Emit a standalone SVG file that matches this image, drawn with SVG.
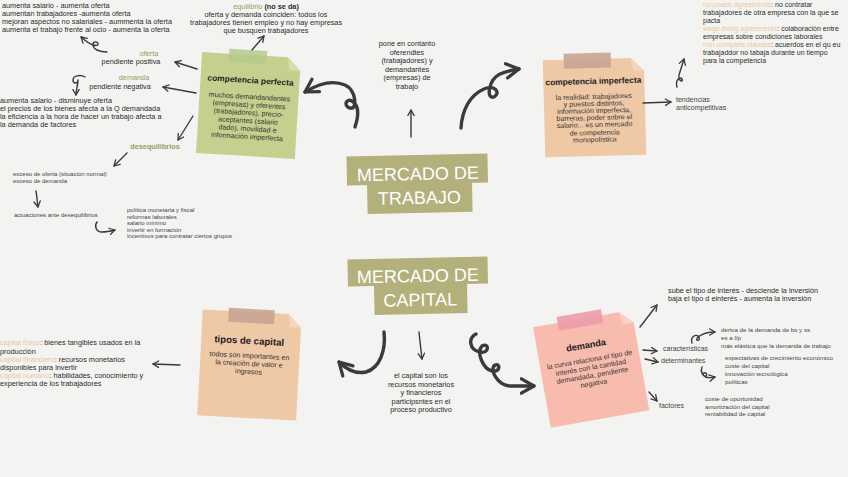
<svg xmlns="http://www.w3.org/2000/svg" width="848" height="477" viewBox="0 0 848 477">
<style>
.t{font-family:"Liberation Sans",Arial,sans-serif;font-size:7.3px;fill:#2b2b2b}
.r{font-family:"Liberation Sans",Arial,sans-serif;font-size:7px;fill:#2b2b2b}
.s{font-family:"Liberation Sans",Arial,sans-serif;font-size:6px;fill:#444}
.m{font-family:"Liberation Sans",Arial,sans-serif;font-size:6.2px;fill:#444}
.l{font-family:"Liberation Sans",Arial,sans-serif;font-size:7px;fill:#444}
.o{fill:#9c9a60}
.p{fill:#f0c6a0}
.c{text-anchor:middle}
.b{font-weight:bold}
.h{font-family:"Liberation Sans",Arial,sans-serif;font-size:18px;fill:#ffffff;text-anchor:middle}
.ttl{font-family:"Liberation Sans",Arial,sans-serif;font-size:8.4px;font-weight:bold;fill:#222;text-anchor:middle}
.nb{font-family:"Liberation Sans",Arial,sans-serif;font-size:7.1px;fill:#333;text-anchor:middle}
.a{fill:none;stroke:#3a3a3a;stroke-width:1.4;stroke-linecap:round;stroke-linejoin:round;marker-end:url(#ah)}
.A{fill:none;stroke:#3a3a3a;stroke-width:3.4;stroke-linecap:round;stroke-linejoin:round;marker-end:url(#AH)}
.olive{fill:#b4b07b}
</style>
<defs>
<marker id="ah" viewBox="0 0 10 10" refX="8" refY="5" markerWidth="8" markerHeight="8" markerUnits="userSpaceOnUse" orient="auto">
<path d="M1,1 L8,5 L1,9" fill="none" stroke="#3a3a3a" stroke-width="1.6" stroke-linecap="round" stroke-linejoin="round"/>
</marker>
<marker id="AH" viewBox="0 0 10 10" refX="8" refY="5" markerWidth="18" markerHeight="18" markerUnits="userSpaceOnUse" orient="auto">
<path d="M1,1 L8,5 L1,9" fill="none" stroke="#3a3a3a" stroke-width="1.8" stroke-linecap="round" stroke-linejoin="round"/>
</marker>
</defs>
<rect width="848" height="477" fill="#f3f3f1"/>

<g id="mercado-trabajo" transform="rotate(-1.2,418,183)">
<rect class="olive" x="347" y="155" width="141" height="29"/>
<rect class="olive" x="367" y="183" width="105" height="30"/>
<text class="h" x="418" y="180">MERCADO DE</text>
<text class="h" x="419" y="204">TRABAJO</text>
</g>
<g id="mercado-capital" transform="rotate(-1.2,418,285)">
<rect class="olive" x="348" y="258" width="140" height="27"/>
<rect class="olive" x="374" y="284" width="93" height="30"/>
<text class="h" x="418" y="282">MERCADO DE</text>
<text class="h" x="420" y="306">CAPITAL</text>
</g>

<g id="competencia-perfecta" transform="rotate(3.5,248,105)">
<path d="M199,55 L285,55 L298,68 L298,156 L199,156 Z" fill="#c6d08e"/>
<path d="M285,55 L298,68 L287,68 Z" fill="#d6dfa8"/>
<rect x="226" y="50" width="38" height="13" fill="#b5ca8b" opacity="0.85"/>
<text class="ttl" x="249" y="83">competencia perfecta</text>
<text class="nb" x="249" y="99">muchos demandandantes</text>
<text class="nb" x="249" y="107">(empresas) y oferentes</text>
<text class="nb" x="249" y="115">(trabajadores), precio-</text>
<text class="nb" x="249" y="123">aceptantes (salario</text>
<text class="nb" x="249" y="131">dado), movilidad e</text>
<text class="nb" x="249" y="139">información imperfecta</text>
</g>

<g id="competencia-imperfecta" transform="rotate(-1.5,594,106)">
<path d="M544,59 L632,59 L645,72 L645,156 L544,156 Z" fill="#efc8a6"/>
<path d="M632,59 L645,72 L634,72 Z" fill="#f5d6ba"/>
<rect x="565" y="53" width="47" height="15" fill="#c9a393" opacity="0.9"/>
<text class="ttl" x="594" y="84">competencia imperfecta</text>
<text class="nb" x="594" y="99">la realidad: trabajadores</text>
<text class="nb" x="594" y="106">y puestos distintos,</text>
<text class="nb" x="594" y="113">información imperfecta,</text>
<text class="nb" x="594" y="120">barreras, poder sobre el</text>
<text class="nb" x="594" y="127">salario... es un mercado</text>
<text class="nb" x="594" y="135">de competencia</text>
<text class="nb" x="594" y="142">monopolística</text>
</g>

<g id="tipos-capital" transform="rotate(3,249,364)">
<path d="M200,312 L286,312 L299,325 L299,418 L200,418 Z" fill="#efc8a6"/>
<path d="M286,312 L299,325 L288,325 Z" fill="#f5d6ba"/>
<rect x="226" y="309" width="46" height="14" fill="#c9a393" opacity="0.9"/>
<text class="ttl" x="248" y="344" style="font-size:9.6px">tipos de capital</text>
<text class="nb" x="249" y="358">todos son importantes en</text>
<text class="nb" x="249" y="366">la creación de valor e</text>
<text class="nb" x="249" y="374">ingresos</text>
</g>

<g id="demanda" transform="rotate(-10,590,368)">
<path d="M541,318 L628,318 L641,331 L641,420 L541,420 Z" fill="#f8bcae"/>
<path d="M628,318 L641,331 L630,331 Z" fill="#fbd0c4"/>
<rect x="566" y="312" width="45" height="14" fill="#ec9ba8" opacity="0.9"/>
<text class="ttl" x="590" y="348" style="font-size:9.2px">demanda</text>
<text class="nb" x="591" y="362">la curva relaciona el tipo de</text>
<text class="nb" x="591" y="370">interés con la cantidad</text>
<text class="nb" x="591" y="378">demandada, pendiente</text>
<text class="nb" x="591" y="386">negativa</text>
</g>

<g id="oferta-efectos">
<text class="t" x="2" y="8">aumenta salario - aumenta oferta</text>
<text class="t" x="2" y="16">aumentan trabajadores -aumenta oferta</text>
<text class="t" x="2" y="24">mejoran aspectos no salariales - aummenta la oferta</text>
<text class="t" x="2" y="32">aumenta el trabajo frente al ocio - aumenta la oferta</text>
</g>
<g id="oferta">
<text class="t o c" x="149" y="56">oferta</text>
<text class="t c" x="131" y="64">pendiente positiva</text>
</g>
<g id="demanda-trabajo">
<text class="t o c" x="134" y="80">demanda</text>
<text class="t c" x="120" y="89">pendiente negativa</text>
</g>
<g id="demanda-efectos">
<text class="t" x="0" y="103">aumenta salario - disminuye oferta</text>
<text class="t" x="0" y="111">el precios de los bienes afecta a la Q demandada</text>
<text class="t" x="0" y="119">la eficiencia a la hora de hacer un trabajo afecta a</text>
<text class="t" x="0" y="127">la demanda de factores</text>
</g>
<g id="equilibrio">
<text class="t c" x="266" y="9"><tspan class="o">equilibrio</tspan> <tspan class="b">(no se da)</tspan></text>
<text class="t c" x="266" y="17">oferta y demanda coinciden: todos los</text>
<text class="t c" x="266" y="25">trabajadores tienen empleo y no hay empresas</text>
<text class="t c" x="266" y="33">que busquen trabajadores</text>
</g>
<g id="desequilibrios">
<text class="t o c b" x="155" y="149">desequilibrios</text>
</g>
<g id="exceso">
<text class="s" x="13" y="176">exceso de oferta (situación normal)</text>
<text class="s" x="13" y="183">exceso de demanda</text>
</g>
<g id="actuaciones">
<text class="s" x="14" y="217">actuaciones ante desequilibrios</text>
</g>
<g id="medidas">
<text class="s" x="127" y="212">política monetaria y fiscal</text>
<text class="s" x="127" y="218.5">reformas laborales</text>
<text class="s" x="127" y="225">salario mínimo</text>
<text class="s" x="127" y="231.5">invertir en formación</text>
<text class="s" x="127" y="238">incentivos para contratar ciertos grupos</text>
</g>
<g id="pone-contacto">
<text class="t c" x="407" y="46">pone en contanto</text>
<text class="t c" x="407" y="54.5">oferendtes</text>
<text class="t c" x="407" y="63">(trabajadores) y</text>
<text class="t c" x="407" y="71.5">demandantes</text>
<text class="t c" x="407" y="80">(empresas) de</text>
<text class="t c" x="407" y="88.5">trabajo</text>
</g>
<g id="acuerdos">
<text class="r" x="703" y="7"><tspan class="p">no-poach agreements</tspan>: no contratar</text>
<text class="r" x="703" y="15">trabajadores de otra empresa con la que se</text>
<text class="r" x="703" y="23">pacta</text>
<text class="r" x="703" y="31"><tspan class="p">wage-fixing agreements</tspan>: colaboración entre</text>
<text class="r" x="703" y="39">empresas sobre condiciones laborales</text>
<text class="r" x="703" y="47"><tspan class="p">non-complete clauses</tspan>: acuerdos en el qu eu</text>
<text class="r" x="703" y="55">trabajaddor no tabaja durante un tiempo</text>
<text class="r" x="703" y="63">para la competencia</text>
</g>
<g id="tendencias">
<text class="l" x="676" y="102">tendencias</text>
<text class="l" x="676" y="110">anticompetitivas</text>
</g>
<g id="capitales">
<text class="t" x="0" y="345"><tspan class="p">capital físico</tspan>: bienes tangibles usados en la</text>
<text class="t" x="0" y="353.5">producción</text>
<text class="t" x="0" y="362"><tspan class="p">capital financiero</tspan>: recursos monetarios</text>
<text class="t" x="0" y="370">disponibles para invertir</text>
<text class="t" x="0" y="378"><tspan class="p">capital humano</tspan>: habilidades, conocimiento y</text>
<text class="t" x="0" y="386">experiencia de los trabajadores</text>
</g>
<g id="capital-def">
<text class="t c" x="421" y="378">el capital son los</text>
<text class="t c" x="421" y="386.5">recursos monetarios</text>
<text class="t c" x="421" y="395">y financieros</text>
<text class="t c" x="421" y="403.5">participsntes en el</text>
<text class="t c" x="421" y="412">proceso productivo</text>
</g>
<g id="interes">
<text class="t" x="668" y="293">sube el tipo de interés - desciende la inversión</text>
<text class="t" x="668" y="301">baja el tipo d einterés - aumenta la inversión</text>
</g>
<g id="caracteristicas"><text class="l" x="663" y="351">características</text></g>
<g id="determinantes"><text class="l" x="661" y="363">determinantes</text></g>
<g id="factores"><text class="l" x="659" y="408">factores</text></g>
<g id="caract-list">
<text class="m" x="721" y="332">deriva de la demanda de bs y ss</text>
<text class="m" x="721" y="340">es a l/p</text>
<text class="m" x="721" y="348">más elástica que la demanda de trabajo</text>
</g>
<g id="determ-list">
<text class="m" x="725" y="360">expectativas de crecimiento económico</text>
<text class="m" x="725" y="368">coste del capital</text>
<text class="m" x="725" y="376">innovación tecnológica</text>
<text class="m" x="725" y="383.5">políticas</text>
</g>
<g id="factores-list">
<text class="m" x="705" y="401">coste de oportunidad</text>
<text class="m" x="705" y="408.5">amortización del capital</text>
<text class="m" x="705" y="416">rentabilidad de capital</text>
</g>

<g id="connectors">
<path class="a" d="M107,52 C99,52 93,49 93,45 C93,41 98,41 98,44 C98,47 91,46 81,37"/>
<path class="a" d="M197,69 L175,62"/>
<path class="a" d="M196,93 L163,87"/>
<path class="a" d="M85,77 C80,74 73,76 73,80 C73,84 78,84 78,80 C78,85 76,90 76,95"/>
<path class="a" d="M193,116 L178,140"/>
<path class="a" d="M127,153 L114,166"/>
<path class="a" d="M36,191 C37,196 37,201 38,207"/>
<path class="a" d="M97,222 C94,226 96,232 102,232 C107,232 111,231 115,230"/>
<path class="a" d="M252,50 L264,36"/>
<path class="A" d="M355,127 C358,118 360,106 352,101 C346,98 343,106 350,108 C358,110 356,90 345,85 C333,80 318,84 305,92"/>
<path class="a" d="M411,137 L411,110"/>
<path class="A" d="M461,128 C462,110 470,95 484,89 C495,84 501,93 494,97 C486,100 488,80 500,74 C506,71 512,70 519,69"/>
<path class="a" d="M643,103 L671,102"/>
<path class="a" d="M677,87 C675,80 680,76 682,79 C684,82 678,82 679,75 L684,59"/>
<path class="a" d="M180,365 L153,364"/>
<path class="A" d="M384,332 C386,350 380,368 366,372 C356,374 346,369 339,362"/>
<path class="a" d="M419,332 C420,342 421,350 422,359"/>
<path class="A" d="M476,334 C468,338 469,350 480,352 C490,354 489,342 482,346 C476,352 483,369 492,371 C500,373 501,363 495,365 C489,369 497,385 510,386 L534,386"/>
<path class="a" d="M640,327 L657,305"/>
<path class="a" d="M643,350 L657,351"/>
<path class="a" d="M645,359 L658,362"/>
<path class="a" d="M649,392 L657,401"/>
<path class="a" d="M692,343 C690,337 696,333 699,337 C701,341 694,342 698,337 C703,333 709,332 715,332"/>
<path class="a" d="M702,367 C700,372 703,377 706,376 C708,374 705,371 703,374 C704,378 710,378 715,377"/>
</g>
</svg>
